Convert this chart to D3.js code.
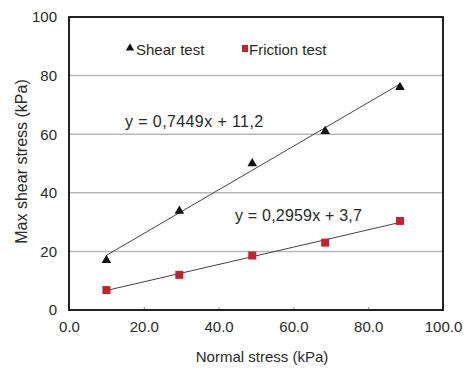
<!DOCTYPE html>
<html>
<head>
<meta charset="utf-8">
<script src="https://cdn.jsdelivr.net/npm/d3@7"></script>
<style>
  body { margin: 0; background: #fff; }
  text { font-family: "Liberation Sans", Arial, sans-serif; fill: #2a2a2a; }
</style>
</head>
<body>
<div id="chart"></div>
<script>
// normal stress (kPa) for each test step
const normalStress = [10, 29.5, 49, 68.5, 88.5];
// measured max shear stress (kPa)
const shearTest = [17, 33.8, 50, 61, 76];
const frictionTest = [6.8, 12, 18.6, 23, 30.4];
// trendlines as printed on the chart
const shearFit = { slope: 0.7449, intercept: 11.2, label: "y = 0,7449x + 11,2" };
const frictionFit = { slope: 0.2959, intercept: 3.7, label: "y = 0,2959x + 3,7" };
const xTicks = [0, 20, 40, 60, 80, 100];
const yTicks = [0, 20, 40, 60, 80, 100];

const width = 466, height = 368;
const margin = { top: 17, right: 23, bottom: 58, left: 69 };

const svg = d3.select("#chart").append("svg")
    .attr("width", width)
    .attr("height", height);

const x = d3.scaleLinear().domain([0, 100]).range([margin.left, width - margin.right]);
const y = d3.scaleLinear().domain([0, 100]).range([height - margin.bottom, margin.top]);

// horizontal grid
svg.append("g")
    .selectAll("line")
    .data(yTicks.filter(d => d > 0 && d < 100))
    .join("line")
    .attr("x1", x(0)).attr("x2", x(100))
    .attr("y1", d => y(d)).attr("y2", d => y(d))
    .attr("stroke", "#b8b8b8")
    .attr("stroke-width", 1.5);

// axes
const xAxis = svg.append("g")
    .attr("transform", `translate(0,${y(0)})`)
    .call(d3.axisBottom(x).tickValues(xTicks).tickFormat(d3.format(".1f")).tickSize(-3).tickPadding(11));
const yAxis = svg.append("g")
    .attr("transform", `translate(${x(0)},0)`)
    .call(d3.axisLeft(y).tickValues(yTicks).tickSize(0).tickPadding(12));
[xAxis, yAxis].forEach(g => {
    g.select(".domain").remove();
    g.selectAll("text").attr("font-size", 15).attr("fill", "#2a2a2a");
    g.selectAll("line").attr("stroke", "#888");
});

// frame
svg.append("rect")
    .attr("x", x(0)).attr("y", y(100))
    .attr("width", x(100) - x(0)).attr("height", y(0) - y(100))
    .attr("fill", "none")
    .attr("stroke", "#222")
    .attr("stroke-width", 2);

// trendlines
const xr = d3.extent(normalStress);
[shearFit, frictionFit].forEach(f => {
    svg.append("line")
        .attr("x1", x(xr[0])).attr("y1", y(f.slope * xr[0] + f.intercept))
        .attr("x2", x(xr[1])).attr("y2", y(f.slope * xr[1] + f.intercept))
        .attr("stroke", "#444")
        .attr("stroke-width", 1);
});

// markers
svg.append("g")
    .selectAll("path")
    .data(normalStress.map((d, i) => [d, shearTest[i]]))
    .join("path")
    .attr("transform", d => `translate(${x(d[0])},${y(d[1])})`)
    .attr("d", d3.symbol(d3.symbolTriangle, 40))
    .attr("fill", "#111");

svg.append("g")
    .selectAll("rect")
    .data(normalStress.map((d, i) => [d, frictionTest[i]]))
    .join("rect")
    .attr("x", d => x(d[0]) - 4).attr("y", d => y(d[1]) - 4)
    .attr("width", 8).attr("height", 8)
    .attr("fill", "#c8202c");

// legend
svg.append("path")
    .attr("transform", "translate(130,48)")
    .attr("d", d3.symbol(d3.symbolTriangle, 30))
    .attr("fill", "#111");
svg.append("text").attr("x", 136).attr("y", 55).attr("font-size", 15).text("Shear test");
svg.append("rect").attr("x", 242).attr("y", 45).attr("width", 6).attr("height", 7).attr("fill", "#c8202c");
svg.append("text").attr("x", 249).attr("y", 55).attr("font-size", 15).text("Friction test");

// equations
svg.append("text").attr("x", 125).attr("y", 127).attr("font-size", 16).attr("letter-spacing", 0.4).text(shearFit.label);
svg.append("text").attr("x", 235).attr("y", 221).attr("font-size", 16).attr("letter-spacing", 0.2).text(frictionFit.label);

// axis titles
svg.append("text")
    .attr("x", 262).attr("y", 362)
    .attr("text-anchor", "middle")
    .attr("font-size", 15)
    .text("Normal stress (kPa)");
svg.append("text")
    .attr("transform", `translate(27,${y(50) - 2}) rotate(-90)`)
    .attr("text-anchor", "middle")
    .attr("font-size", 16)
    .text("Max shear stress (kPa)");
</script>
</body>
</html>
